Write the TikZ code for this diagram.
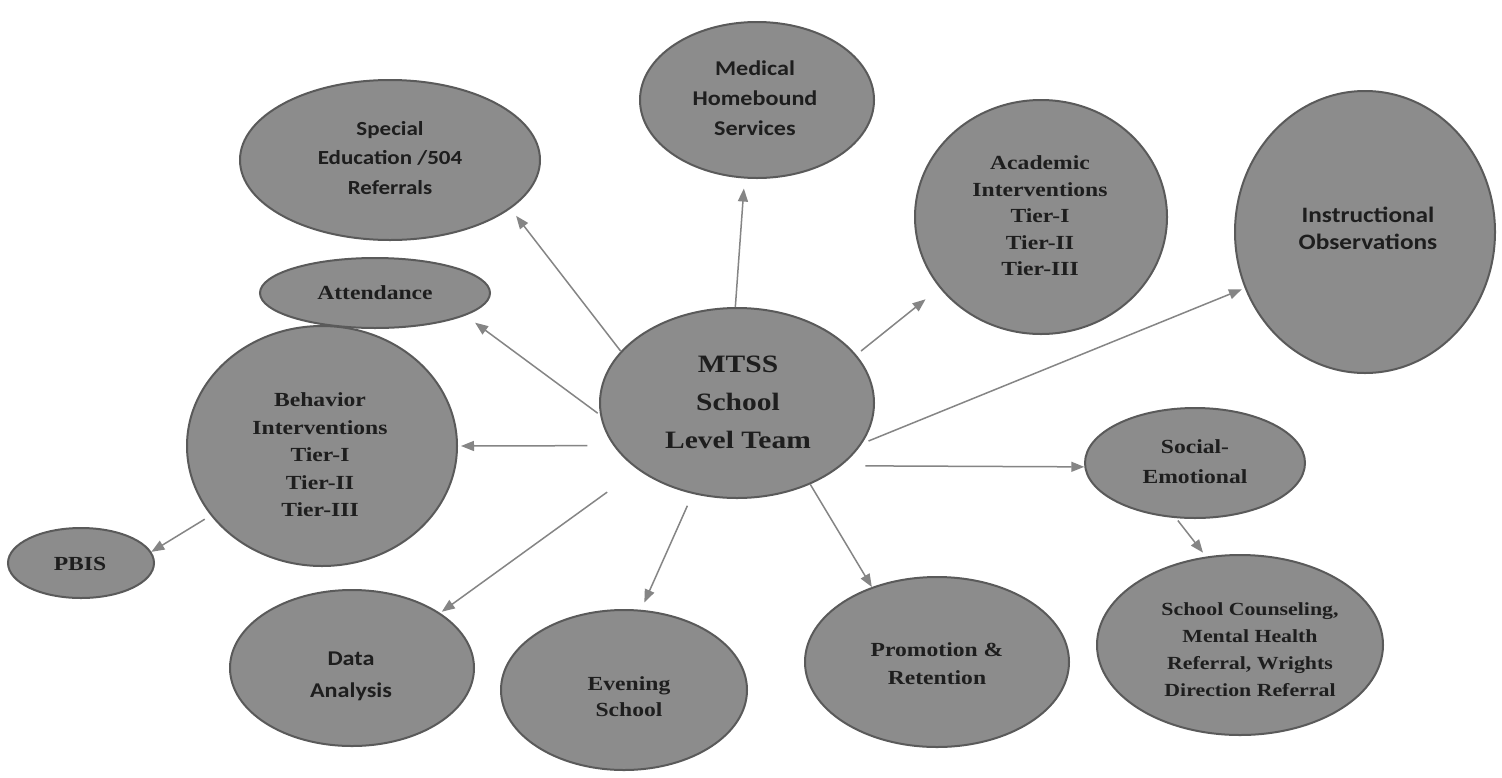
\documentclass[tikz,border=0pt]{standalone}
\usepackage{fontspec}
\usetikzlibrary{shapes.geometric,arrows.meta}
\newfontfamily\fSerif{Liberation Serif}[FakeStretch=1.18]
\newfontfamily\fSans{Carlito}[FakeStretch=1.15]
\definecolor{bubfill}{HTML}{8C8C8C}
\definecolor{bubline}{HTML}{5A5A5A}
\definecolor{arr}{HTML}{858585}
\definecolor{ink}{HTML}{1E1E1E}
\begin{document}
\begin{tikzpicture}[x=1pt,y=-1pt,
  bub/.style={ellipse,draw=bubline,fill=bubfill,line width=2pt,inner sep=0pt},
  ts/.style={text=ink,align=center,inner sep=0pt,font=\fSerif\bfseries\fontsize{20}{27.5}\selectfont},
  tc/.style={text=ink,align=center,inner sep=0pt,font=\fSans\bfseries\fontsize{20}{29.5}\selectfont},
  link/.style={draw=arr,line width=1.5pt,-{Triangle[length=13pt,width=10pt]}}]
\fill[white] (0,0) rectangle (1502,777);
\useasboundingbox (0,0) rectangle (1502,777);

% bubbles
\node[bub,minimum width=300pt,minimum height=160pt] (spec) at (390,160) {};
\node[bub,minimum width=234pt,minimum height=156pt] (med) at (757,100) {};
\node[bub,minimum width=252pt,minimum height=234pt] (acad) at (1041,217) {};
\node[bub,minimum width=260pt,minimum height=282pt] (instr) at (1365,232) {};
\node[bub,minimum width=230pt,minimum height=70pt] (att) at (375,293) {};
\node[bub,minimum width=274pt,minimum height=190pt] (mtss) at (737,403) {};
\node[bub,minimum width=270pt,minimum height=240pt] (beh) at (322,446) {};
\node[bub,minimum width=220pt,minimum height=110pt] (soc) at (1195,463) {};
\node[bub,minimum width=146pt,minimum height=70pt] (pbis) at (81,563) {};
\node[bub,minimum width=244pt,minimum height=156pt] (data) at (352,668) {};
\node[bub,minimum width=246pt,minimum height=160pt] (eve) at (624,690) {};
\node[bub,minimum width=264pt,minimum height=170pt] (prom) at (937,662) {};
\node[bub,minimum width=286pt,minimum height=180pt] (sc) at (1240,645) {};

% texts
\node[tc] (specT) at (390,158) {Special\\Education /504\\Referrals};
\node[tc,font=\fSans\bfseries\fontsize{21}{30}\selectfont] (medT) at (755,98) {Medical\\Homebound\\Services};
\node[ts,font=\fSerif\bfseries\fontsize{20}{26.5}\selectfont] (acadT) at (1040,216) {Academic\\Interventions\\Tier-I\\Tier-II\\Tier-III};
\node[tc,font=\fSans\bfseries\fontsize{22}{27}\selectfont] (instrT) at (1368,228) {Instructional\\Observations};
\node[ts] (attT) at (375,293) {Attendance};
\node[ts,font=\fSerif\bfseries\fontsize{25}{38}\selectfont] (mtssT) at (738,402) {MTSS\\School\\Level Team};
\node[ts] (behT) at (320,455) {Behavior\\Interventions\\Tier-I\\Tier-II\\Tier-III};
\node[ts,font=\fSerif\bfseries\fontsize{20}{30}\selectfont] (socT) at (1195,462) {Social-\\Emotional};
\node[ts] (pbisT) at (80,564) {PBIS};
\node[tc,font=\fSans\bfseries\fontsize{21}{32}\selectfont] (dataT) at (351,676) {Data\\Analysis};
\node[ts,font=\fSerif\bfseries\fontsize{20}{26}\selectfont] (eveT) at (629,697) {Evening\\School};
\node[ts,font=\fSerif\bfseries\fontsize{20}{28}\selectfont] (promT) at (937,664) {Promotion \&\\Retention};
\node[ts,font=\fSerif\bfseries\fontsize{18.5}{27}\selectfont] (scT) at (1250,650) {School Counseling,\\Mental Health\\Referral, Wrights\\Direction Referral};

% connectors
\draw[link,shorten >=9pt] (mtss.156) -- (spec.-22);
\draw[link,shorten >=10pt] (mtss.91) -- (med.-99);
\draw[link,shorten <=6pt,shorten >=18pt] (mtss.22) -- (acad.215);
\draw[link,shorten <=7pt,shorten >=3pt] (mtss.-18) -- (instr.205);
\draw[link,shorten <=3pt,shorten >=12pt] (mtss.185) -- (att.-14);
\draw[link,shorten <=26pt,shorten >=3pt] (mtss.199) -- (beh.0);
\draw[link,shorten <=24pt] (mtss.-31) -- (soc.182);
\draw[link,shorten <=38pt,shorten >=2pt] (mtss.214) -- (data.32);
\draw[link,shorten <=13pt,shorten >=8pt] (mtss.244) -- (eve.78);
\draw[link] (mtss.-48) -- (prom.131);
\draw[link,shorten <=7pt] (beh.212) -- (pbis.9);
\draw[link,shorten <=3pt,shorten >=5pt] (soc.251) -- (sc.111);
\end{tikzpicture}
\end{document}
